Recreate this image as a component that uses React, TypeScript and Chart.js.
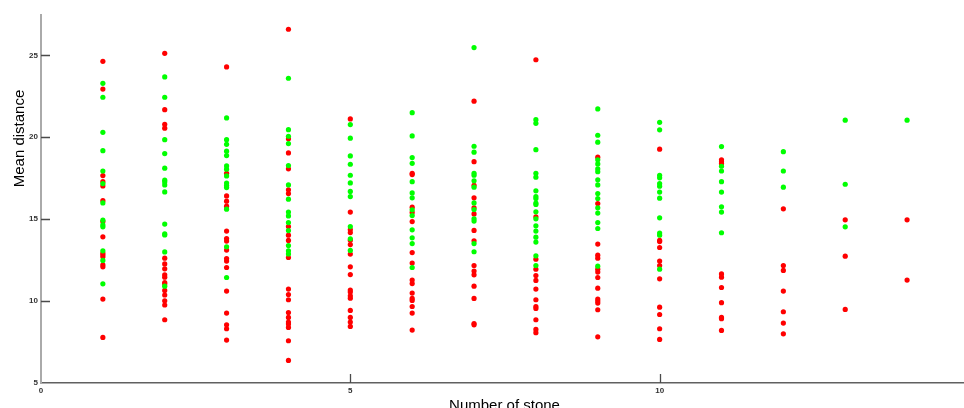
import { useEffect, useRef } from "react";
import { Chart, registerables } from "chart.js";

Chart.register(...registerables);

// Tick labels
const X_TICKS = [0, 5, 10];
const Y_TICKS = [5, 10, 15, 20, 25];
const X_TITLE = "Number of stone";
const Y_TITLE = "Mean distance";

// Green series, one array per number of stones (1..14)
const green01 = [23.29, 22.44, 20.3, 19.18, 17.94, 17.17, 15.99, 14.94, 14.65, 14.53, 13.07, 12.48, 11.05];
const green02 = [23.68, 22.44, 19.85, 19.0, 18.11, 17.38, 17.26, 17.09, 16.66, 14.7, 14.1, 14.04, 13.0, 10.91];
const green03 = [21.18, 19.85, 19.57, 19.15, 18.88, 18.25, 18.05, 17.64, 17.2, 17.05, 16.93, 15.61, 13.31, 11.44];
const green04 = [23.6, 20.46, 20.06, 19.61, 18.27, 17.09, 16.22, 15.43, 15.2, 14.79, 14.3, 13.39, 13.07, 12.88];
const green05 = [20.77, 19.94, 18.86, 18.35, 17.68, 17.21, 16.69, 16.38, 14.55, 13.8, 13.09];
const green06 = [21.5, 20.08, 18.76, 18.41, 17.29, 16.6, 16.3, 15.57, 15.22, 14.35, 13.86, 13.51, 12.05];
const green07 = [25.47, 19.45, 19.09, 17.8, 17.68, 17.34, 16.95, 15.99, 15.59, 15.02, 14.88, 13.51, 13.01];
const green08 = [21.07, 20.85, 19.24, 17.8, 17.56, 16.73, 16.38, 16.26, 15.98, 15.9, 15.45, 15.02, 14.59, 14.27, 13.9, 13.6, 12.76, 12.17];
const green09 = [21.73, 20.12, 19.7, 18.62, 18.37, 18.07, 17.9, 17.4, 17.09, 16.56, 16.26, 15.69, 15.37, 14.79, 14.43, 12.13];
const green10 = [20.91, 20.45, 17.68, 17.52, 17.17, 17.01, 16.65, 16.28, 15.08, 14.15, 14.02, 11.95];
const green11 = [19.43, 18.23, 17.94, 17.29, 16.65, 15.75, 15.43, 14.17];
const green12 = [19.12, 17.94, 16.95];
const green13 = [21.04, 17.13, 14.53];
const green14 = [21.04];

// Red series, one array per number of stones (1..14)
const red01 = [24.63, 22.94, 17.66, 17.29, 17.03, 16.13, 14.85, 13.92, 12.93, 12.82, 12.7, 12.21, 12.09, 10.12, 7.78];
const red02 = [25.12, 21.68, 20.79, 20.55, 12.62, 12.27, 11.97, 11.6, 11.46, 11.13, 11.04, 10.65, 10.37, 10.02, 9.76, 8.86];
const red03 = [24.29, 17.8, 16.42, 16.1, 15.79, 14.27, 13.82, 13.66, 13.11, 12.6, 12.44, 12.05, 10.61, 9.27, 8.55, 8.31, 7.62];
const red04 = [26.59, 19.9, 19.04, 18.07, 16.79, 16.56, 14.55, 14.02, 13.7, 12.66, 10.73, 10.4, 10.08, 9.3, 9.0, 8.72, 8.6, 8.39, 7.58, 6.38];
const red05 = [21.12, 15.43, 14.37, 14.18, 13.72, 13.45, 12.87, 12.09, 11.62, 10.67, 10.55, 10.32, 10.18, 9.43, 9.0, 8.72, 8.45];
const red06 = [17.8, 17.72, 15.73, 15.41, 14.85, 12.96, 12.32, 11.28, 11.07, 10.49, 10.16, 10.04, 9.67, 9.27, 8.23];
const red07 = [22.2, 18.51, 17.07, 16.3, 15.69, 15.32, 14.31, 13.68, 12.17, 11.83, 11.6, 10.91, 10.16, 8.63, 8.55];
const red08 = [24.73, 15.14, 12.56, 11.95, 11.56, 11.26, 10.73, 10.08, 9.67, 9.55, 8.86, 8.27, 8.07];
const red09 = [18.78, 15.95, 13.48, 12.8, 12.62, 11.95, 11.77, 11.44, 10.79, 10.12, 10.0, 9.88, 9.47, 7.82];
const red10 = [19.27, 13.7, 13.63, 13.27, 12.44, 12.17, 11.36, 9.63, 9.18, 8.31, 7.66];
const red11 = [18.62, 18.51, 18.39, 11.66, 11.46, 10.83, 9.9, 9.0, 8.92, 8.21];
const red12 = [15.63, 12.17, 11.87, 10.61, 9.35, 8.66, 8.0];
const red13 = [14.96, 12.74, 9.49];
const red14 = [14.96, 11.28];

const STONES = [1, 2, 3, 4, 5, 6, 7, 8, 9, 10, 11, 12, 13, 14];
const greenCols = [green01, green02, green03, green04, green05, green06, green07, green08, green09, green10, green11, green12, green13, green14];
const redCols = [red01, red02, red03, red04, red05, red06, red07, red08, red09, red10, red11, red12, red13, red14];

const X_MIN = 0;
const X_MAX = 14.92;
const Y_MIN = 5;
const Y_MAX = 27.46;

function toPoints(cols: number[][]) {
  const pts: { x: number; y: number }[] = [];
  cols.forEach((vals, i) => vals.forEach((y) => pts.push({ x: STONES[i], y })));
  return pts;
}

const FONT = "'Liberation Sans', Arial, sans-serif";

const decorPlugin = {
  id: "decor",
  afterDraw(chart: any) {
    const ctx = chart.ctx;
    const xs = chart.scales.x;
    const ys = chart.scales.y;
    const area = chart.chartArea;
    ctx.save();
    // inward tick marks
    ctx.strokeStyle = "#4a4a4a";
    ctx.lineWidth = 1.3;
    ctx.beginPath();
    X_TICKS.forEach((v) => {
      if (v === X_MIN) return;
      const px = Math.round(xs.getPixelForValue(v)) + 0.5;
      ctx.moveTo(px, area.bottom);
      ctx.lineTo(px, area.bottom - 9);
    });
    Y_TICKS.forEach((v) => {
      if (v === Y_MIN) return;
      const py = Math.round(ys.getPixelForValue(v)) + 0.5;
      ctx.moveTo(area.left, py);
      ctx.lineTo(area.left + 9, py);
    });
    ctx.stroke();
    // axis titles
    ctx.fillStyle = "#000";
    ctx.font = `15px ${FONT}`;
    ctx.textAlign = "center";
    ctx.textBaseline = "alphabetic";
    ctx.fillText(X_TITLE, (area.left + area.right) / 2 + 2, 410);
    ctx.translate(23.5, 138.5);
    ctx.rotate(-Math.PI / 2);
    ctx.fillText(Y_TITLE, 0, 0);
    ctx.restore();
  },
};

export default function App() {
  const ref = useRef<HTMLCanvasElement | null>(null);

  useEffect(() => {
    if (!ref.current) return;
    const chart = new Chart(ref.current, {
      type: "scatter",
      data: {
        datasets: [
          {
            label: "green",
            data: toPoints(greenCols),
            backgroundColor: "#00ff00",
            borderWidth: 0,
            pointStyle: "circle",
            pointRadius: 2.6,
          },
          {
            label: "red",
            data: toPoints(redCols),
            backgroundColor: "#ff0000",
            borderWidth: 0,
            pointStyle: "circle",
            pointRadius: 2.6,
          },
        ],
      },
      options: {
        animation: false,
        responsive: false,
        events: [],
        layout: { autoPadding: false, padding: { top: 15, right: 0, left: 0, bottom: 0 } },
        plugins: {
          legend: { display: false },
          tooltip: { enabled: false },
        },
        scales: {
          x: {
            type: "linear",
            min: X_MIN,
            max: X_MAX,
            afterBuildTicks: (axis: any) => {
              axis.ticks = X_TICKS.map((v) => ({ value: v }));
            },
            afterFit: (axis: any) => {
              axis.height = 25;
              axis.paddingLeft = 0;
              axis.paddingRight = 0;
            },
            grid: { display: true, drawOnChartArea: false, drawTicks: false },
            border: { display: true, color: "#606060", width: 1.5 },
            ticks: {
              padding: 3,
              color: "#333",
              font: { family: FONT, size: 8, weight: "bold" },
              maxRotation: 0,
              autoSkip: false,
            },
          },
          y: {
            type: "linear",
            min: Y_MIN,
            max: Y_MAX,
            afterBuildTicks: (axis: any) => {
              axis.ticks = Y_TICKS.map((v) => ({ value: v }));
            },
            afterFit: (axis: any) => {
              axis.width = 41;
              axis.paddingTop = 0;
              axis.paddingBottom = 0;
            },
            grid: { display: true, drawOnChartArea: false, drawTicks: false },
            border: { display: true, color: "#aaaaaa", width: 2 },
            ticks: {
              padding: 3,
              color: "#333",
              font: { family: FONT, size: 8, weight: "bold" },
              autoSkip: false,
            },
          },
        },
      },
      plugins: [decorPlugin],
    } as any);
    return () => chart.destroy();
  }, []);

  return (
    <div style={{ position: "absolute", left: 0, top: 0, width: 964, height: 408, background: "#fff" }}>
      <canvas ref={ref} width={964} height={408} style={{ display: "block" }} />
    </div>
  );
}
